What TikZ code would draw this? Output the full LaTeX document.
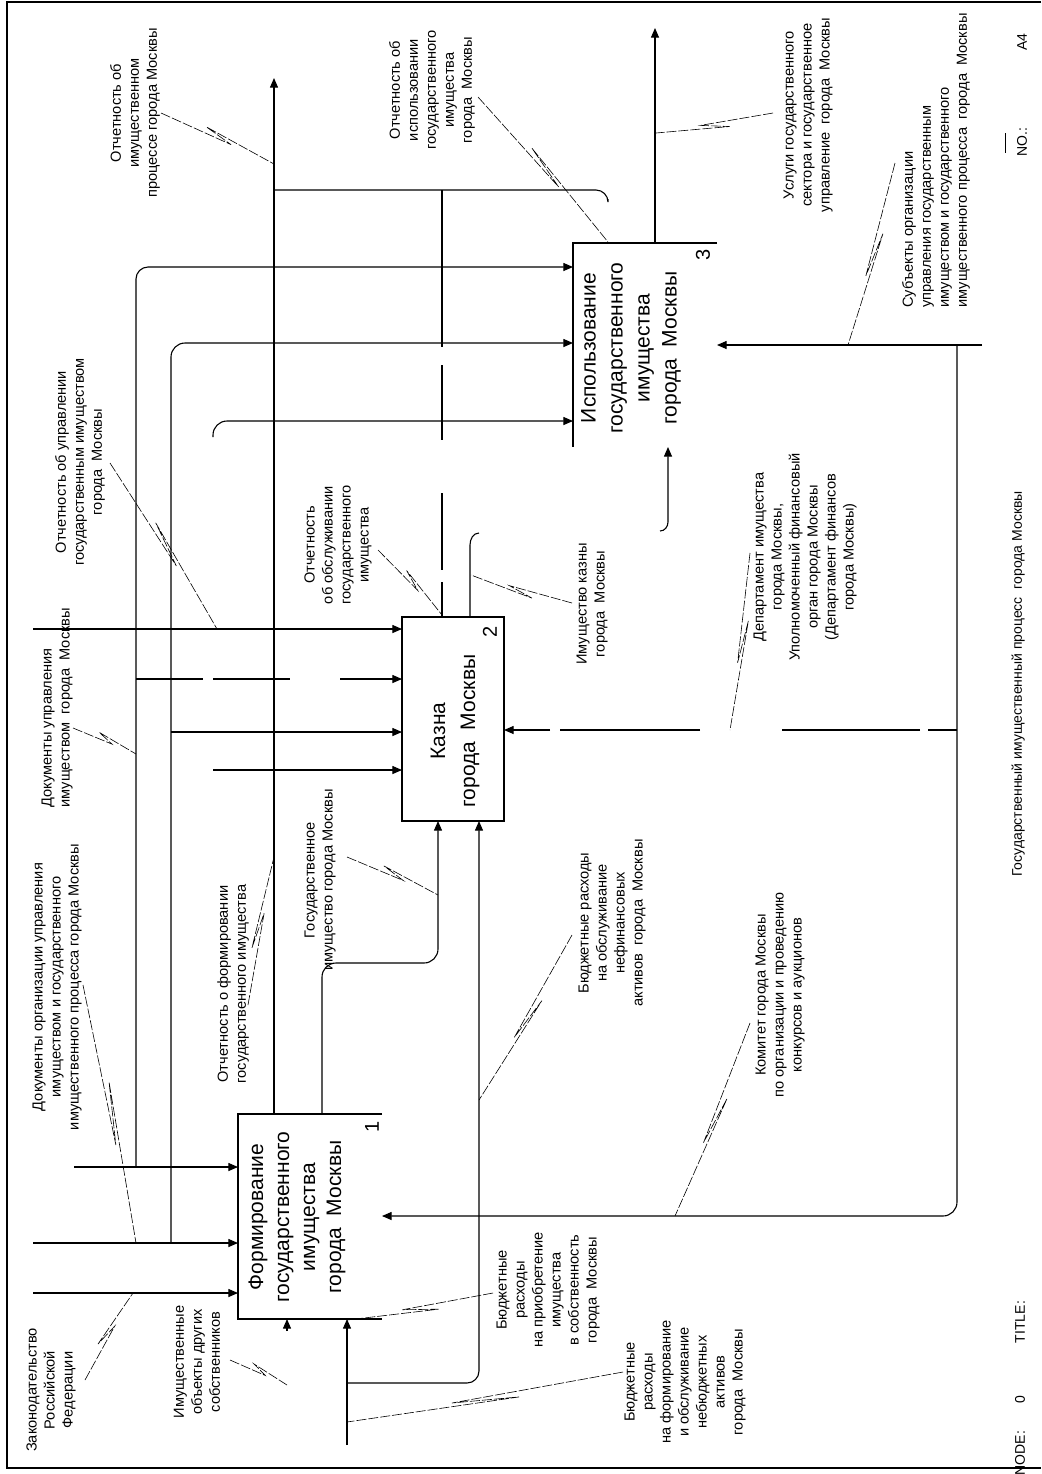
\documentclass[tikz,border=0pt]{standalone}
\usepackage{fontspec}
\setmainfont{Liberation Sans}
\usetikzlibrary{arrows.meta,calc}
\newcommand\ldrline[2]{\draw[ldr] (#1) -- ($(#1)!0.62!(#2)$) -- ($(#1)!0.38!(#2)!3pt!90:(#2)$) -- (#2);}
\begin{document}
\begin{tikzpicture}[x=0.5pt,y=-0.5pt,
  ln/.style={line width=0.55pt},
  arr/.style={ln,-{Triangle[length=4.8pt,width=4pt]}},
  ldr/.style={line width=0.3pt,dash pattern=on 5pt off 1pt},
  lbl/.style={rotate=90,align=center,inner sep=0pt,font=\fontsize{7.3}{9}\selectfont},
  boxt/.style={rotate=90,align=center,inner sep=0pt,font=\fontsize{10.5}{13}\selectfont},
  num/.style={rotate=90,inner sep=0pt,font=\fontsize{10}{12}\selectfont},
  foot/.style={rotate=90,inner sep=0pt,font=\fontsize{7}{9}\selectfont},
  boxn/.style={inner sep=0pt,outer sep=0pt}]
\useasboundingbox (0,0) rectangle (1041,1474);
% frame
\draw[ln] (1041,2) -- (7,2) -- (7,1468) -- (1041,1468);
\draw[line width=0.4pt] (1005,133) -- (1005,153);
% boxes
\node[boxn,minimum width=72pt,minimum height=102.5pt] (b1) at (310,1216.5) {};
\node[boxn,draw,line width=0.6pt,minimum width=51pt,minimum height=102pt] (b2) at (453,719) {};
\node[boxn,minimum width=72pt,minimum height=102pt] (b3) at (645,345) {};
\draw[line width=0.6pt] (b1.north east) -- (b1.north west) -- (b1.south west) -- (b1.south east);
\draw[line width=0.6pt] (b3.north east) -- (b3.north west) -- (b3.south west);
\node[boxt] (t1) at (297,1217) {Формирование\\государственного\\имущества\\города\ \ Москвы};
\node[boxt,font=\fontsize{10.5}{15}\selectfont] (t2) at (455,731) {Казна\\города\ \ Москвы};
\node[boxt,font=\fontsize{10.5}{13.5}\selectfont] (t3) at (631,348) {Использование\\государственного\\имущества\\города\ \ Москвы};
\node[num] (n1) at (372,1127) {1};
\node[num] (n2) at (490,632) {2};
\node[num] (n3) at (703,255) {3};
% box 1 controls
\coordinate (c11) at (74,1167);
\draw[arr] (c11) -- (c11 -| b1.west);
\coordinate (c12) at (33,1243);
\draw[arr] (c12) -- (c12 -| b1.west);
\coordinate (c13) at (33,1293);
\draw[arr] (c13) -- (c13 -| b1.west);
% branch x=136
\coordinate (k1) at (136,1167);
\coordinate (k1t) at (136,267);
\draw[arr,rounded corners=6pt] (k1) -- (k1t) -- (k1t -| b3.west);
\draw[ln] (136,679) -- (203,679);
\draw[ln] (213,679) -- (290,679);
\coordinate (k1g) at (340,679);
\draw[arr] (k1g) -- (k1g -| b2.west);
% branch x=171
\coordinate (k2) at (171,1243);
\coordinate (k2t) at (171,343);
\draw[arr,rounded corners=7pt] (k2) -- (k2t) -- (k2t -| b3.west);
\coordinate (k2m) at (171,732);
\draw[arr] (k2m) -- (k2m -| b2.west);
% x=213
\coordinate (k3) at (213,437);
\coordinate (k3t) at (213,421);
\draw[arr,rounded corners=7pt] (k3) -- (k3t) -- (k3t -| b3.west);
\coordinate (k3m) at (213,770);
\draw[arr] (k3m) -- (k3m -| b2.west);
% box 2 control from boundary
\coordinate (c21) at (33,629);
\draw[arr] (c21) -- (c21 -| b2.west);
% box 1 output to boundary
\coordinate (o1) at (274,78);
\draw[arr] (o1 |- b1.north) -- (o1);
\coordinate (o1j) at (274,190);
\coordinate (o3j) at (608,199);
\draw[ln,rounded corners=6pt] (o1j) -- (608,190) -- (o3j);
% box 2 output up
\coordinate (o2) at (442,190);
\draw[ln] (o2) -- (442,347);
\draw[ln] (442,365) -- (442,440);
\draw[ln] (442,493) -- (442,570);
\coordinate (o2b) at (442,582);
\draw[ln] (o2b) -- (o2b |- b2.north);
% box 3 output
\coordinate (o3) at (655,28);
\draw[arr] (o3 |- b3.north) -- (o3);
% mechanisms
\coordinate (m3) at (982,345);
\draw[arr] (m3) -- (m3 -| b3.east);
\coordinate (m3j) at (957,345);
\coordinate (m3b) at (957,1216);
\draw[arr,rounded corners=7pt] (m3j) -- (m3b) -- (m3b -| b1.east);
\draw[ln] (957,730) -- (928,730);
\draw[ln] (920,730) -- (782,730);
\draw[ln] (700,730) -- (560,730);
\coordinate (m2) at (550,730);
\draw[arr] (m2) -- (m2 -| b2.east);
% box 2 inputs
\coordinate (i2a) at (322,963);
\coordinate (i2ab) at (438,963);
\draw[arr,rounded corners=7pt] (i2a |- b1.north) -- (i2a) -- (i2ab) -- (i2ab |- b2.south);
\coordinate (i1) at (347,1445);
\draw[arr] (i1) -- (i1 |- b1.south);
\coordinate (i1j) at (347,1383);
\coordinate (i2b) at (479,1383);
\draw[arr,rounded corners=6pt] (i1j) -- (i2b) -- (i2b |- b2.south);
\coordinate (i1b) at (287,1331);
\draw[arr] (i1b) -- (i1b |- b1.south);
% box 2 output (kazna) and box 3 input
\coordinate (o2k) at (470,545);
\draw[ln] (o2k |- b2.north) -- (o2k) to[out=90,in=180] (479,533);
\coordinate (i3) at (668,522);
\draw[arr] (660,531) to[out=0,in=-90] (i3) -- (i3 |- b3.south);
% labels
\node[lbl] (L1) at (135,113) {Отчетность об\\имущественном\\процессе города Москвы};
\node[lbl] (L2) at (432,90) {Отчетность об\\использовании\\государственного\\имущества\\города\ \ Москвы};
\node[lbl] (L3) at (808,115) {Услуги государственного\\сектора и государственное\\управление\ \ города\ \ Москвы};
\node[lbl,align=left,anchor=west] (L4) at (936,308) {Субъекты организации\\управления государственным\\имуществом и государственного\\имущественного процесса\ \ города\ \ Москвы};
\node[lbl] (L5) at (80,462) {Отчетность об управлении\\государственным имуществом\\города\ \ Москвы};
\node[lbl,align=left,anchor=west] (L6) at (57,808) {Документы управления\\имуществом\ \ города\ \ Москвы};
\node[lbl] (L7) at (57,987) {Документы организации управления\\имуществом и государственного\\имущественного процесса города Москвы};
\node[lbl] (L8) at (51,1390) {Законодательство\\Российской\\Федерации};
\node[lbl] (L9) at (197,1362) {Имущественные\\объекты других\\собственников};
\node[lbl] (L10) at (233,984) {Отчетность о формировании\\государственного имущества};
\node[lbl] (L11) at (320,880) {Государственное\\имущество города Москвы};
\node[lbl] (L12) at (338,545) {Отчетность\\об обслуживании\\государственного\\имущества};
\node[lbl] (L13) at (592,604) {Имущество казны\\города\ \ Москвы};
\node[lbl] (L14) at (612,923) {Бюджетные расходы\\на обслуживание\\нефинансовых\\активов\ \ города\ \ Москвы};
\node[lbl] (L15) at (805,557) {Департамент имущества\\города Москвы,\\Уполномоченный финансовый\\орган города Москвы\\(Департамент финансов\\города Москвы)};
\node[lbl] (L16) at (780,995) {Комитет города Москвы\\по организации и проведению\\конкурсов и аукционов};
\node[lbl] (L17) at (548,1290) {Бюджетные\\расходы\\на приобретение\\имущества\\в собственность\\города\ \ Москвы};
\node[lbl] (L18) at (685,1382) {Бюджетные\\расходы\\на формирование\\и обслуживание\\небюджетных\\активов\\города\ \ Москвы};
% footer
\node[foot] (f1) at (1018,684) {Государственный имущественный процесс\ \ города Москвы};
\node[foot] (f2) at (1020,1453) {NODE:};
\node[foot] (f3) at (1020,1400) {0};
\node[foot] (f4) at (1020,1322) {TITLE:};
\node[foot] (f5) at (1022,142) {NO.:};
\node[foot] (f6) at (1022,42) {A4};
% leaders
\coordinate (a1) at (161,113); \coordinate (e1) at (274,164); \ldrline{a1}{e1}
\coordinate (a2) at (478,97); \coordinate (e2) at (608,242); \ldrline{a2}{e2}
\coordinate (a3) at (773,113); \coordinate (e3) at (656,133); \ldrline{a3}{e3}
\coordinate (a4) at (895,163); \coordinate (e4) at (848,345); \ldrline{a4}{e4}
\coordinate (a5) at (110,463); \coordinate (e5) at (217,629); \ldrline{a5}{e5}
\coordinate (a6) at (73,728); \coordinate (e6) at (136,754); \ldrline{a6}{e6}
\coordinate (a7) at (83,985); \coordinate (e7) at (136,1243); \ldrline{a7}{e7}
\coordinate (a8) at (85,1380); \coordinate (e8) at (133,1293); \ldrline{a8}{e8}
\coordinate (a9) at (230,1360); \coordinate (e9) at (287,1385); \ldrline{a9}{e9}
\coordinate (a10) at (248,1005); \coordinate (e10) at (274,857); \ldrline{a10}{e10}
\coordinate (a11) at (347,857); \coordinate (e11) at (438,895); \ldrline{a11}{e11}
\coordinate (a12) at (378,550); \coordinate (e12) at (442,615); \ldrline{a12}{e12}
\coordinate (a13) at (572,603); \coordinate (e13) at (471,575); \ldrline{a13}{e13}
\coordinate (a14) at (572,935); \coordinate (e14) at (479,1100); \ldrline{a14}{e14}
\coordinate (a15) at (750,553); \coordinate (e15) at (730,730); \ldrline{a15}{e15}
\coordinate (a16) at (750,1023); \coordinate (e16) at (675,1216); \ldrline{a16}{e16}
\coordinate (a17) at (493,1293); \coordinate (e17) at (347,1320); \ldrline{a17}{e17}
\coordinate (a18) at (623,1372); \coordinate (e18) at (347,1422); \ldrline{a18}{e18}
\end{tikzpicture}
\end{document}
